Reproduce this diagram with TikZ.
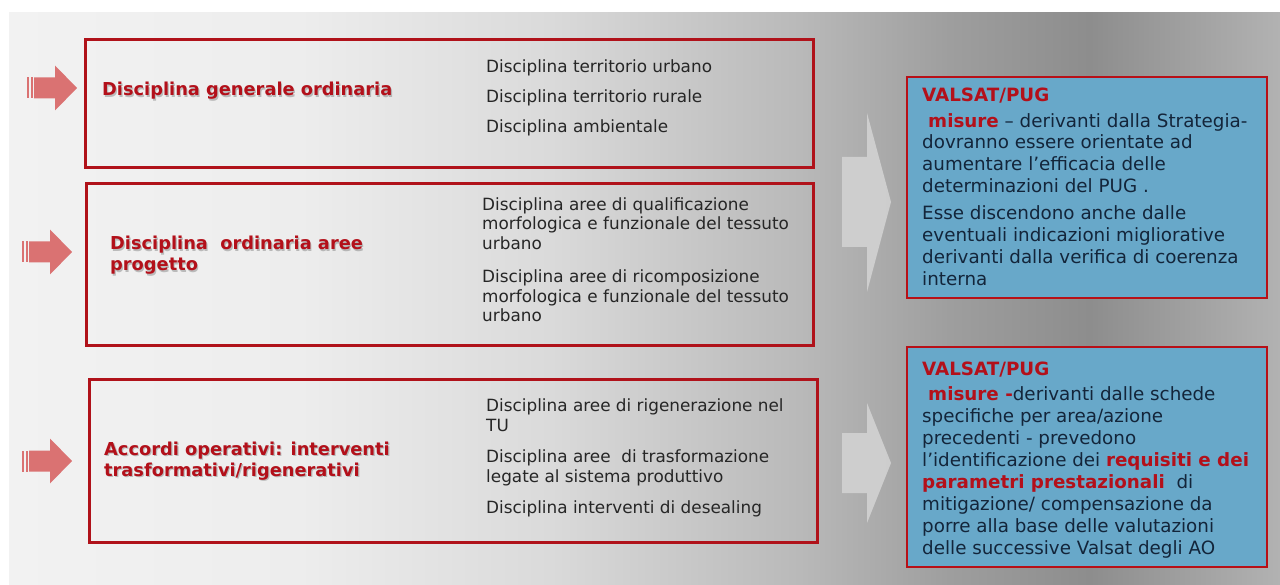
\documentclass[tikz,border=0pt]{standalone}
\usepackage{fontspec}
\setmainfont{DejaVu Sans}
\definecolor{bg0}{HTML}{F2F2F2}
\definecolor{bg1}{HTML}{EDEDED}
\definecolor{bg2}{HTML}{DADADA}
\definecolor{bg3}{HTML}{B9B9B9}
\definecolor{bg4}{HTML}{9E9E9E}
\definecolor{bg5}{HTML}{8D8D8D}
\definecolor{bg6}{HTML}{B2B2B2}
\definecolor{boxred}{HTML}{B0121A}
\definecolor{titlered}{HTML}{B3101A}
\definecolor{arrowred}{HTML}{DA7272}
\definecolor{chevgray}{HTML}{D2D2D2}
\definecolor{bluefill}{HTML}{68A8C9}
\definecolor{navytext}{HTML}{13253A}
\definecolor{itemgray}{HTML}{262626}
\pgfdeclarehorizontalshading{bgshade}{100bp}{color(0bp)=(bg0); color(25bp)=(bg0); color(36.4bp)=(bg1); color(46.3bp)=(bg2); color(56.1bp)=(bg3); color(62bp)=(bg4); color(67.5bp)=(bg5); color(75bp)=(bg6); color(100bp)=(bg6)}
\begin{document}
\begin{tikzpicture}[x=1pt,y=-1pt,
  redbox/.style={draw=boxred, line width=3pt, inner sep=0, rectangle},
  bluebox/.style={draw=boxred!90!red, line width=2pt, fill=bluefill, inner sep=0, rectangle},
  chev/.style={fill=chevgray, fill opacity=0.9},
  item/.style={anchor=base west, inner sep=0, align=left, text=itemgray, font=\fontsize{16.85}{19.7}\selectfont},
  title/.style={anchor=base west, inner sep=0, align=left, text=titlered, font=\bfseries\fontsize{17.8}{21}\selectfont},
  titleshadow/.style={anchor=base west, inner sep=0, align=left, text=black, text opacity=0.22, font=\bfseries\fontsize{17.8}{21}\selectfont},
  bluetext/.style={anchor=base west, inner sep=0, align=left, text=navytext, font=\fontsize{18.3}{22}\selectfont},
  pinkarrow/.pic={
    \fill[arrowred] (0,-10.5) rectangle (2,10.5);
    \fill[arrowred] (3.5,-10.5) rectangle (5.5,10.5);
    \fill[arrowred] (7,-10.5) -- (28,-10.5) -- (28,-22.5) -- (50,0) -- (28,22.5) -- (28,10.5) -- (7,10.5) -- cycle;
  }]
\useasboundingbox (0,0) rectangle (1280,585);
\fill[white] (0,0) rectangle (1280,585);
\shade[shading=bgshade] (9,13) rectangle (1280,585);

% left pink arrows
\pic at (27,88) {pinkarrow};
\pic at (22,252) {pinkarrow};
\pic at (22,461) {pinkarrow};

% red boxes
\node[redbox, minimum width=728pt, minimum height=128pt] (b1) at (449,104) {};
\node[redbox, minimum width=727pt, minimum height=162pt] (b2) at (449.5,265) {};
\node[redbox, minimum width=728pt, minimum height=163pt] (b3) at (453,460.5) {};

% titles (anchor = baseline of last line)
\node[titleshadow] at (103.2,97.2) {Disciplina generale ordinaria};
\node[title] (t1) at (102,96) {Disciplina generale ordinaria};
\node[titleshadow] at (111.2,272.2) {Disciplina\ \ ordinaria aree\\progetto};
\node[title] (t2) at (110,271) {Disciplina\ \ ordinaria aree\\progetto};
\node[titleshadow] at (105.2,477.2) {Accordi operativi: interventi\\trasformativi/rigenerativi};
\node[title] (t3) at (104,476) {Accordi operativi: interventi\\trasformativi/rigenerativi};

% items (anchor = baseline of last line)
\node[item] (i1) at (486,133) {Disciplina territorio urbano\\[10.3pt]Disciplina territorio rurale\\[10.3pt]Disciplina ambientale};
\node[item] (i2) at (482,322) {Disciplina aree di qualificazione\\morfologica e funzionale del tessuto\\urbano\\[13.3pt]Disciplina aree di ricomposizione\\morfologica e funzionale del tessuto\\urbano};
\node[item] (i3) at (486,513) {Disciplina aree di rigenerazione nel\\TU\\[11.3pt]Disciplina aree\ \ di trasformazione\\legate al sistema produttivo\\[11.3pt]Disciplina interventi di desealing};

% gray chevrons
\fill[chev] (842,157) -- (867,157) -- (867,113) -- (891,202) -- (867,292) -- (867,247) -- (842,247) -- cycle;
\fill[chev] (842,433) -- (867,433) -- (867,403) -- (891,463) -- (867,523) -- (867,493) -- (842,493) -- cycle;

% blue boxes
\node[bluebox, minimum width=360pt, minimum height=221pt] (v1) at (1087,187.5) {};
\node[bluebox, minimum width=360pt, minimum height=220pt] (v2) at (1087,457) {};

\node[bluetext] (vt1) at (922,286) {{\color{titlered}\bfseries VALSAT/PUG}\\[4pt]
\hspace*{6pt}{\color{titlered}\bfseries misure} – derivanti dalla Strategia-\\[-1pt]
dovranno essere orientate ad\\
aumentare l’efficacia delle\\
determinazioni del PUG .\\[5pt]
Esse discendono anche dalle\\
eventuali indicazioni migliorative\\
derivanti dalla verifica di coerenza\\
interna};

\node[bluetext] (vt2) at (922,554) {{\color{titlered}\bfseries VALSAT/PUG}\\[3pt]
\hspace*{6pt}{\color{titlered}\bfseries misure -}derivanti dalle schede\\
specifiche per area/azione\\
precedenti - prevedono\\
l’identificazione dei {\color{titlered}\bfseries requisiti e dei}\\
{\color{titlered}\bfseries parametri prestazionali}\ \ di\\
mitigazione/ compensazione da\\
porre alla base delle valutazioni\\
delle successive Valsat degli AO};
\end{tikzpicture}
\end{document}
